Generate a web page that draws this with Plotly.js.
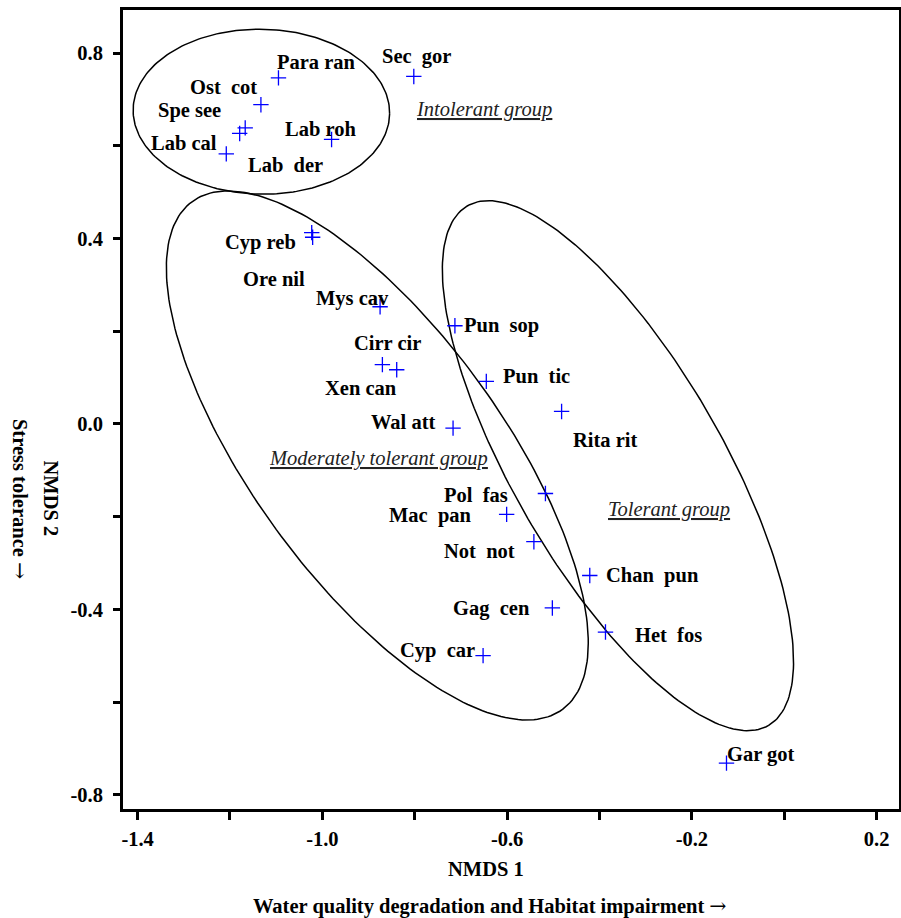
<!DOCTYPE html>
<html>
<head>
<meta charset="utf-8">
<script src="https://cdn.plot.ly/plotly-3.0.1.min.js"></script>
<style>
  html, body { margin: 0; padding: 0; background: #fff; }
  #chart { width: 901px; height: 918px; }
</style>
</head>
<body>
<div id="chart"></div>
<script>
// NMDS ordination of fish species (site scores on axes 1 and 2)
const species = [
  "Para ran", "Ost  cot", "Spe see", "Lab  der", "Lab cal", "Lab roh", "Sec  gor",
  "Cyp reb", "Ore nil", "Mys cav", "Pun  sop", "Cirr cir", "Xen can", "Pun  tic",
  "Wal att", "Rita rit", "Pol  fas", "Mac  pan", "Not  not", "Chan  pun", "Gag  cen",
  "Het  fos", "Cyp  car", "Gar got"
];
const nmds1 = [
  -1.095, -1.133, -1.179, -1.167, -1.208, -0.980, -0.802,
  -1.023, -1.021, -0.875, -0.713, -0.839, -0.870, -0.645,
  -0.717, -0.482, -0.517, -0.601, -0.542, -0.421, -0.502,
  -0.387, -0.652, -0.125
];
const nmds2 = [
  0.747, 0.689, 0.627, 0.639, 0.583, 0.614, 0.750,
  0.413, 0.403, 0.253, 0.212, 0.117, 0.128, 0.092,
  -0.009, 0.027, -0.150, -0.195, -0.254, -0.327, -0.397,
  -0.449, -0.500, -0.732
];

// Tolerance groups: ellipse centre, semi-axes and orientation (degrees)
const groupNames = ["Intolerant group", "Moderately tolerant group", "Tolerant group"];
const groupCx    = [-1.132, -0.881, -0.360];
const groupCy    = [0.674, -0.068, -0.090];
const groupA     = [0.2777, 0.679, 0.6485];
const groupB     = [0.178, 0.271, 0.226];
const groupAngle = [-1, -53.8, -59.8];
const groupLabelX = [-0.651, -0.878, -0.249];
const groupLabelY = [0.678, -0.074, -0.185];

// Axis ticks
const xTickVals = [-1.4, -1.2, -1.0, -0.8, -0.6, -0.4, -0.2, 0.0, 0.2];
const xTickText = ["-1.4", "", "-1.0", "", "-0.6", "", "-0.2", "", "0.2"];
const yTickVals = [-0.8, -0.6, -0.4, -0.2, 0.0, 0.2, 0.4, 0.6, 0.8];
const yTickText = ["-0.8", "", "-0.4", "", "0.0", "", "0.4", "", "0.8"];

// Label placement around each marker (pixels: right, down)
const labelOffset = {
  "Para ran": [37.7, -15.4], "Ost  cot": [-37, -17.3], "Spe see": [-49.8, -22.6],
  "Lab  der": [40, 37.6], "Lab cal": [-42.5, -11.3], "Lab roh": [-10.7, -10.6],
  "Sec  gor": [2.7, -20.3], "Cyp reb": [-51.7, 10], "Ore nil": [-39, 41.4],
  "Mys cav": [-28, -8.4], "Pun  sop": [47, 0], "Cirr cir": [-9.7, -26.7],
  "Xen can": [-21.5, 23.3], "Pun  tic": [50, -5], "Wal att": [-49.3, -6],
  "Rita rit": [43.6, 29], "Pol  fas": [-69, 1.3], "Mac  pan": [-76.4, 0.7],
  "Not  not": [-54, 9], "Chan  pun": [63, 0], "Gag  cen": [-61, 0.7],
  "Het  fos": [63, 2.7], "Cyp  car": [-45.5, -5], "Gar got": [35, -8.3]
};

const SERIF = "Liberation Serif, Times New Roman, serif";
const ARROW = '<span style="font-family:DejaVu Serif;font-weight:normal">\u2192</span>';

function ellipseTrace(i) {
  const xs = [], ys = [];
  const th = groupAngle[i] * Math.PI / 180;
  const n = 240;
  for (let k = 0; k <= n; k++) {
    const t = 2 * Math.PI * k / n;
    const u = groupA[i] * Math.cos(t), v = groupB[i] * Math.sin(t);
    xs.push(groupCx[i] + u * Math.cos(th) - v * Math.sin(th));
    ys.push(groupCy[i] + u * Math.sin(th) + v * Math.cos(th));
  }
  return {
    x: xs, y: ys, type: "scatter", mode: "lines",
    line: { color: "#000", width: 1.5 },
    hoverinfo: "skip", showlegend: false
  };
}

const traces = groupNames.map((_, i) => ellipseTrace(i));
traces.push({
  x: nmds1, y: nmds2, text: species, type: "scatter", mode: "markers",
  marker: { symbol: "cross-thin", size: 11, line: { color: "rgb(0,0,255)", width: 1.3 } },
  hoverinfo: "text", showlegend: false
});

const annotations = [];
species.forEach((name, i) => {
  const off = labelOffset[name] || [0, 0];
  annotations.push({
    x: nmds1[i], y: nmds2[i], xref: "x", yref: "y",
    text: name.replace(/  /g, " \u00a0"),
    showarrow: false, xanchor: "center", yanchor: "middle",
    xshift: off[0], yshift: -off[1],
    font: { family: SERIF, size: 20.5, color: "#000", weight: "bold" }
  });
});
groupNames.forEach((g, i) => {
  annotations.push({
    x: groupLabelX[i], y: groupLabelY[i], xref: "x", yref: "y",
    text: "<i><u>" + g + "</u></i>", showarrow: false,
    xanchor: "center", yanchor: "middle",
    font: { family: SERIF, size: 20.5, color: "#222" }
  });
});
// Axis titles
const titleFont = { family: SERIF, size: 20.5, color: "#000", weight: "bold" };
annotations.push(
  { xref: "paper", yref: "paper", x: 0.4684, y: -0.0751, text: "NMDS 1",
    showarrow: false, xanchor: "center", yanchor: "middle", font: titleFont },
  { xref: "paper", yref: "paper", x: 0.473, y: -0.1214,
    text: "Water quality degradation and Habitat impairment " + ARROW,
    showarrow: false, xanchor: "center", yanchor: "middle", font: titleFont },
  { xref: "paper", yref: "paper", x: -0.0932, y: 0.389, text: "NMDS 2",
    textangle: 90, showarrow: false, xanchor: "center", yanchor: "middle", font: titleFont },
  { xref: "paper", yref: "paper", x: -0.1327, y: 0.388, text: "Stress tolerance " + ARROW,
    textangle: 90, showarrow: false, xanchor: "center", yanchor: "middle", font: titleFont }
);

const tickFont = { family: SERIF, size: 20.5, color: "#000", weight: "bold" };
const layout = {
  width: 901, height: 918,
  margin: { l: 123, r: 2, t: 10, b: 109, pad: 0 },
  paper_bgcolor: "#fff", plot_bgcolor: "#fff",
  showlegend: false,
  xaxis: {
    range: [-1.4316, 0.2485], tickmode: "array", tickvals: xTickVals, ticktext: xTickText,
    ticks: "outside", ticklen: 8, tickwidth: 3, tickcolor: "#000",
    showline: true, linewidth: 3, linecolor: "#000", mirror: true,
    showgrid: false, zeroline: false, tickfont: tickFont, ticklabelstandoff: 1
  },
  yaxis: {
    range: [-0.8309, 0.8934], tickmode: "array", tickvals: yTickVals, ticktext: yTickText,
    ticks: "outside", ticklen: 7, tickwidth: 3, tickcolor: "#000",
    showline: true, linewidth: 3, linecolor: "#000", mirror: true,
    showgrid: false, zeroline: false, tickfont: tickFont, ticklabelstandoff: 6
  },
  annotations: annotations
};

Plotly.newPlot("chart", traces, layout, { displayModeBar: false, staticPlot: true });
</script>
</body>
</html>
